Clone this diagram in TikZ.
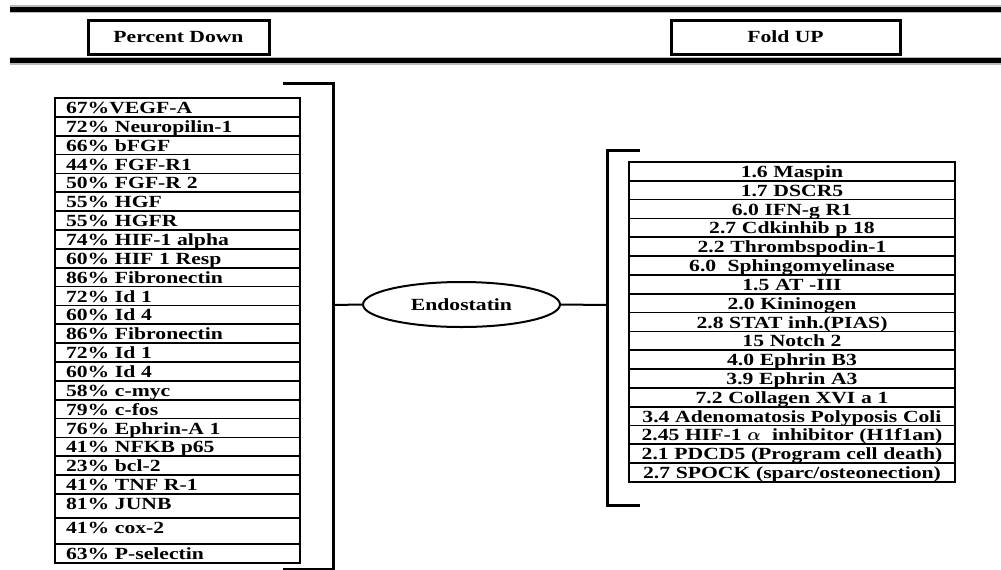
\documentclass[tikz,border=0pt]{standalone}
\usepackage{fontspec}
\usepackage{bm}
\setmainfont{Liberation Serif}[FakeStretch=1.27]
\usetikzlibrary{positioning,shapes.geometric}
\newdimen\pu \pu=0.02cm

\begin{document}
\begin{tikzpicture}[x=0.02cm,y=-0.02cm,
	font=\bfseries\fontsize{9.7}{11}\selectfont,
	headbox/.style={draw,line width=3\pu,inner sep=0pt,minimum height=34\pu},
	leftrow/.style={draw,line width=1.7\pu,outer sep=0pt,inner ysep=0pt,inner xsep=11\pu,text width=223\pu,align=left,text height=15.5\pu},
	rightrow/.style={draw,line width=1.7\pu,outer sep=0pt,inner ysep=0pt,inner xsep=4\pu,text width=318\pu,align=center,text height=15.5\pu,text depth=3.32\pu,minimum height=18.82\pu},
	bracket/.style={line width=3\pu},
	link/.style={line width=2\pu}]
	\useasboundingbox (0,0) rectangle (1001,569);
	
	%HEADER RULES
	\draw[gray!55,line width=8\pu] (10,9)--(1001,9);
	\draw[black,line width=4.5\pu] (10,9.5)--(1001,9.5);
	\draw[gray!55,line width=8\pu] (10,61)--(1001,61);
	\draw[black,line width=4.5\pu] (10,60.5)--(1001,60.5);
	\node[headbox,minimum width=181\pu] (down) at (178.5,37) {Percent Down};
	\node[headbox,minimum width=229\pu] (up) at (785.5,37) {Fold UP};
	
	%LEFT LIST
	\node[leftrow,anchor=north west,minimum height=18.86\pu,text depth=3.36\pu] (l1) at (55,98) {67\%VEGF-A};
	\foreach \t/\h [count=\i from 2,remember=\i as \j (initially 1),evaluate=\h as \d using \h-15.5] in {72\% Neuropilin-1/18.86,66\% bFGF/18.86,44\% FGF-R1/18.86,50\% FGF-R 2/18.86,55\% HGF/18.86,55\% HGFR/18.86,74\% HIF-1 alpha/18.86,60\% HIF 1 Resp/18.86,86\% Fibronectin/18.86,72\% Id 1/18.86,60\% Id 4/18.86,86\% Fibronectin/18.86,72\% Id 1/18.86,60\% Id 4/18.86,58\% c-myc/18.86,79\% c-fos/18.86,76\% Ephrin-A 1/18.86,41\% NFKB p65/18.86,23\% bcl-2/18.86,41\% TNF R-1/18.86,81\% JUNB/24,41\% cox-2/26,63\% P-selectin/19}
		\node[leftrow,minimum height=\h\pu,text depth=\d\pu,below=0pt of l\j] (l\i) {\t};
	
	%RIGHT LIST
	\node[rightrow,anchor=north west] (r1) at (629,162) {1.6 Maspin};
	\foreach \t [count=\i from 2,remember=\i as \j (initially 1)] in {1.7 DSCR5,6.0 IFN-g R1,2.7 Cdkinhib p 18,2.2 Thrombspodin-1,6.0\ \ Sphingomyelinase,1.5 AT -III,2.0 Kininogen,2.8 STAT inh.(PIAS),15 Notch 2,4.0 Ephrin B3,3.9 Ephrin A3,7.2 Collagen XVI a 1,3.4 Adenomatosis Polyposis Coli,2.45 HIF-1 $\bm{\alpha}$\ \ inhibitor (H1f1an),2.1 PDCD5 (Program cell death),2.7 SPOCK (sparc/osteonection)}
		\node[rightrow,below=0pt of r\j] (r\i) {\t};
	
	%BRACKETS
	\draw[bracket] (283,83)--(333,83)--(333,569.5)--(283,569.5);
	\draw[bracket] (640,150)--(607,150)--(607,505)--(640,505);
	\coordinate (lb) at (333,305);
	\coordinate (rb) at (607,305);
	
	%CENTRE
	\node[draw,ellipse,line width=2\pu,inner sep=0pt,minimum width=197\pu,minimum height=45\pu] (endo) at (461.5,304.5) {Endostatin};
	\draw[link] (lb)--(endo.west);
	\draw[link] (endo.east)--(rb);
\end{tikzpicture}
\end{document}
